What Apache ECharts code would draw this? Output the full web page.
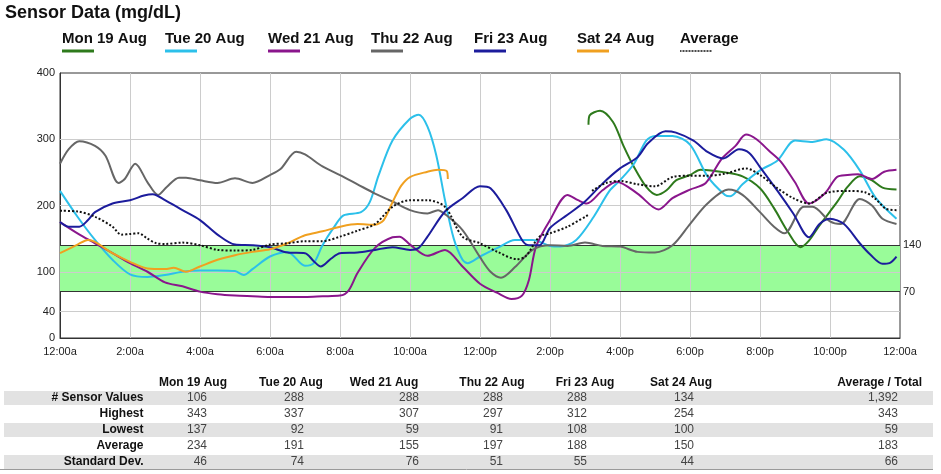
<!DOCTYPE html>
<html>
<head>
<meta charset="utf-8">
<script src="https://cdn.jsdelivr.net/npm/echarts@6/dist/echarts.min.js"></script>
<style>
html,body{margin:0;padding:0;background:#fff;}
#chart{width:941px;height:474px;}
</style>
</head>
<body>
<div id="chart"></div>
<script>
// ---------- data ----------
const dayNames = ['Mon 19 Aug', 'Tue 20 Aug', 'Wed 21 Aug', 'Thu 22 Aug', 'Fri 23 Aug', 'Sat 24 Aug', 'Average'];
const dayColors = ['#2e7a1c', '#2cc0ea', '#8a168c', '#666666', '#1c1c9c', '#f0a020', '#111111'];

// [hour of day, mg/dL]
const mon19 = [[15.1,322],[15.13,336],[15.43,343],[15.8,326],[16.1,290],[16.4,258],[16.75,228],[17.05,216],[17.33,223],[17.6,238],[18,246],[18.3,254],[18.6,253],[19,250],[19.5,244],[20,226],[20.4,196],[20.8,160],[21.15,137],[21.4,147],[21.7,170],[22.2,205],[22.5,228],[22.85,244],[23.2,238],[23.5,227],[23.9,224]];
const tue20 = [[0,222],[0.5,183],[1,148],[1.5,118],[2,96],[2.5,92],[3,95],[3.5,100],[4,102],[4.5,102],[5,101],[5.25,95],[5.5,104],[6,123],[6.5,130],[7,109],[7.25,113],[7.5,140],[7.8,165],[8.1,185],[8.6,190],[8.85,205],[9.1,245],[9.5,298],[10,331],[10.25,337],[10.5,319],[10.75,276],[11,208],[11.25,150],[11.5,118],[11.65,113],[12,123],[12.5,136],[13,148],[13.5,148],[14,139],[14.3,138],[14.75,148],[15.25,183],[15.7,222],[16,238],[16.4,263],[16.75,298],[17,305],[17.5,305],[18,292],[18.5,244],[19,216],[19.15,214],[19.5,232],[20,253],[20.5,268],[21,298],[21.5,296],[21.9,300],[22.4,284],[22.85,253],[23.3,212],[23.9,180]];
const wed21 = [[0,175],[0.5,158],[1,143],[1.5,128],[2,113],[2.5,100],[3,84],[3.5,78],[4,70],[4.5,66],[5,64],[5.5,63],[6,62],[6.5,62],[7,62],[7.5,63],[8,64],[8.25,72],[8.5,98],[9,136],[9.5,152],[9.7,153],[10,141],[10.5,124],[11,133],[11.5,108],[12,82],[12.5,68],[12.9,59],[13.2,64],[13.4,88],[13.6,138],[14,178],[14.5,216],[14.8,208],[15.05,203],[15.5,223],[15.9,236],[16.5,218],[17.1,194],[17.5,211],[18,224],[18.45,234],[18.9,270],[19.3,290],[19.6,307],[19.9,300],[20.25,283],[20.6,266],[21,235],[21.4,203],[21.85,218],[22.2,243],[22.5,246],[22.8,247],[23.2,240],[23.55,251],[23.9,254]];
const thu22 = [[0,263],[0.25,285],[0.55,297],[1,290],[1.3,275],[1.67,234],[1.85,240],[2.15,263],[2.5,235],[2.8,216],[3.05,228],[3.4,242],[3.6,242],[4,238],[4.5,234],[5,241],[5.5,234],[6,246],[6.3,255],[6.75,281],[7,277],[7.5,259],[8,246],[8.5,232],[9,218],[9.5,206],[10,193],[10.5,188],[10.8,193],[11,187],[11.5,163],[12,122],[12.3,100],[12.6,91],[13,107],[13.5,133],[14,140],[14.5,139],[15,144],[15.5,139],[16,138],[16.5,130],[17,129],[17.5,140],[18,172],[18.5,203],[19.1,224],[19.5,216],[20,190],[20.4,168],[20.7,158],[21.25,198],[21.5,198],[22,176],[22.3,172],[22.85,210],[23.2,200],[23.5,180],[23.9,172]];
const fri23 = [[0,175],[0.25,168],[0.55,168],[0.8,178],[1,190],[1.5,203],[2,208],[2.4,215],[2.65,217],[3,208],[3.5,193],[4,178],[4.5,156],[5,141],[5.5,140],[6,137],[6.5,129],[7,128],[7.25,116],[7.45,108],[7.75,120],[8,128],[8.5,129],[9,133],[9.5,137],[10,133],[10.25,136],[10.5,153],[11,191],[11.5,211],[12,229],[12.3,226],[12.75,193],[13.2,148],[13.4,140],[13.7,140],[14,166],[14.5,186],[15,206],[15.5,233],[16,256],[16.5,273],[16.8,294],[17.3,312],[17.6,310],[18.1,298],[18.5,281],[18.95,271],[19.4,285],[19.7,279],[20,258],[20.5,222],[20.95,188],[21.4,152],[21.7,172],[22,180],[22.4,172],[22.85,143],[23.15,126],[23.5,112],[23.7,113],[23.9,123]];
const sat24 = [[0,128],[0.5,141],[0.8,148],[1,145],[1.5,128],[2,115],[2.5,105],[3,104],[3.25,106],[3.6,100],[4,108],[4.5,118],[5,125],[5.5,130],[6,134],[6.5,143],[7,155],[7.5,161],[8,168],[8.5,172],[9,171],[9.25,178],[9.5,205],[9.75,230],[10,243],[10.5,251],[10.8,254],[11.05,252],[11.08,240]];
const average = [[0,192],[0.5,191],[1,183],[1.5,168],[1.75,156],[2,157],[2.25,158],[2.5,150],[2.75,143],[3,142],[3.5,144],[4,140],[4.5,133],[5,132],[5.5,133],[6,141],[6.5,143],[7,146],[7.5,146],[8,153],[8.5,162],[9,172],[9.5,198],[10,208],[10.5,208],[11,198],[11.5,153],[12,143],[12.5,130],[13.05,119],[13.3,123],[13.7,153],[14,158],[14.5,168],[15.1,186],[15.12,null],[15.2,222],[15.6,234],[16,237],[16.5,232],[17,229],[17.5,243],[18,245],[18.5,245],[19,248],[19.6,256],[20,246],[20.5,226],[20.95,211],[21.4,203],[21.9,219],[22.5,222],[23,220],[23.3,210],[23.6,195],[23.9,193]];
const seriesData = [mon19, tue20, wed21, thu22, fri23, sat24, average];

const yTickLabels = [0, 40, 100, 200, 300, 400];
const yGridValues = [40, 100, 200, 300];
const xGridValues = [2, 4, 6, 8, 10, 12, 14, 16, 18, 20, 22];
const targetLow = 70;
const targetHigh = 140;

// summary table
const statCols = ['Mon 19 Aug', 'Tue 20 Aug', 'Wed 21 Aug', 'Thu 22 Aug', 'Fri 23 Aug', 'Sat 24 Aug', 'Average / Total'];
const statRows = ['# Sensor Values', 'Highest', 'Lowest', 'Average', 'Standard Dev.'];
const sensorValues = [106, 288, 288, 288, 288, 134, 1392];
const highest = [343, 337, 307, 297, 312, 254, 343];
const lowest = [137, 92, 59, 91, 108, 100, 59];
const averages = [234, 191, 155, 197, 188, 150, 183];
const stdDevs = [46, 74, 76, 51, 55, 44, 66];
const statValues = [sensorValues, highest, lowest, averages, stdDevs];

// ---------- chart ----------
const FONT = '"Liberation Sans", Arial, sans-serif';
const chart = echarts.init(document.getElementById('chart'), null, {renderer: 'canvas'});

function fmtHour(v) {
  const h = v % 24;
  const suffix = (v < 12 || v >= 24) ? 'a' : 'p';
  const hr = h % 12 === 0 ? 12 : h % 12;
  return hr + ':00' + suffix;
}

const rich = {
  t: {fontSize: 15, fontWeight: 'bold', color: '#111', width: 90, lineHeight: 19, fontFamily: FONT}
};
dayColors.forEach(function (c, i) {
  if (i < 6) {
    rich['u' + i] = {width: 32, height: 3, lineHeight: 6, backgroundColor: c};
  } else {
    rich['u' + i] = {width: 32, height: 0, lineHeight: 6, borderColor: c, borderWidth: 1.5, borderType: 'dotted'};
  }
});

const lineSeries = dayNames.map(function (name, i) {
  return {
    name: name,
    type: 'line',
    data: seriesData[i],
    showSymbol: false,
    smooth: 0.3,
    connectNulls: false,
    z: 5 + i,
    silent: true,
    lineStyle: {color: dayColors[i], width: 2, type: i === 6 ? 'dotted' : 'solid'},
    itemStyle: {color: dayColors[i]},
    emphasis: {disabled: true}
  };
});

// table graphics
const colHeaderCenter = [193, 291, 384, 492, 585, 681];
const colValueRight = [207, 304, 419, 503, 587, 694, 898];
const headerY = 382.5;
const rowY0 = 398, rowStep = 16;
const graphics = [];
statRows.forEach(function (r, ri) {
  if (ri % 2 === 0) {
    graphics.push({type: 'rect', shape: {x: 4, y: rowY0 + ri * rowStep - 7, width: 929, height: 14}, style: {fill: '#e2e2e2'}, silent: true});
  }
});
graphics.push({type: 'line', shape: {x1: 0, y1: 469.5, x2: 933, y2: 469.5}, style: {stroke: '#9a9a9a', lineWidth: 1}, silent: true});
statCols.forEach(function (c, ci) {
  const isLast = ci === statCols.length - 1;
  graphics.push({type: 'text', silent: true, style: {
    text: c, x: isLast ? 922 : colHeaderCenter[ci], y: headerY,
    textAlign: isLast ? 'right' : 'center', align: isLast ? 'right' : 'center',
    textVerticalAlign: 'middle', verticalAlign: 'middle',
    font: 'bold 12px ' + FONT, fill: '#111'
  }});
});
statRows.forEach(function (r, ri) {
  graphics.push({type: 'text', silent: true, style: {
    text: r, x: 143.5, y: rowY0 + ri * rowStep,
    textAlign: 'right', align: 'right', textVerticalAlign: 'middle', verticalAlign: 'middle',
    font: 'bold 12px ' + FONT, fill: '#111'
  }});
  statValues[ri].forEach(function (v, ci) {
    graphics.push({type: 'text', silent: true, style: {
      text: v.toLocaleString('en-US'), x: colValueRight[ci], y: rowY0 + ri * rowStep,
      textAlign: 'right', align: 'right', textVerticalAlign: 'middle', verticalAlign: 'middle',
      font: '12px ' + FONT, fill: '#444'
    }});
  });
});

const option = {
  animation: false,
  backgroundColor: '#fff',
  textStyle: {fontFamily: FONT},
  title: {
    text: 'Sensor Data (mg/dL)', left: 5, top: 4, padding: 0,
    textStyle: {fontSize: 18, fontWeight: 'bold', color: '#111', fontFamily: FONT}
  },
  legend: {
    data: dayNames,
    left: 57, top: 31, padding: 0,
    icon: 'none', itemWidth: 0, itemHeight: 0, itemGap: 8,
    selectedMode: false,
    formatter: function (name) {
      const i = dayNames.indexOf(name);
      return '{t|' + name + '}\n{u' + i + '|}';
    },
    textStyle: {rich: rich}
  },
  grid: {
    left: 60, right: 41, top: 73, bottom: 136,
    show: true, borderColor: '#333', borderWidth: 1, backgroundColor: 'transparent'
  },
  xAxis: {
    type: 'value', min: 0, max: 24, interval: 2,
    axisLine: {show: true, lineStyle: {color: '#333'}},
    axisTick: {show: false},
    splitLine: {show: false},
    axisLabel: {formatter: fmtHour, fontSize: 11, color: '#222', margin: 8, fontFamily: FONT, showMaxLabel: true, showMinLabel: true}
  },
  yAxis: {
    type: 'value', min: 0, max: 400, interval: 20,
    axisLine: {show: true, lineStyle: {color: '#333'}},
    axisTick: {show: false},
    splitLine: {show: false},
    axisLabel: {
      fontSize: 11, color: '#222', margin: 5, fontFamily: FONT,
      formatter: function (v) { return yTickLabels.indexOf(v) >= 0 ? String(v) : ''; }
    }
  },
  graphic: graphics,
  series: [
    {
      name: 'target band', type: 'line', data: [], z: 1, silent: true,
      markArea: {silent: true, itemStyle: {color: '#99fc99', opacity: 1}, data: [[{yAxis: targetLow}, {yAxis: targetHigh}]]}
    },
    {
      name: 'grid lines', type: 'line', data: [], z: 2, silent: true,
      markLine: {
        silent: true, symbol: ['none', 'none'], animation: false,
        label: {show: false},
        lineStyle: {color: '#cccccc', width: 1, type: 'solid'},
        data: yGridValues.map(function (v) { return {yAxis: v}; })
          .concat(xGridValues.map(function (v) { return {xAxis: v}; }))
      }
    },
    {
      name: 'target lines', type: 'line', data: [], z: 3, silent: true,
      markLine: {
        silent: true, symbol: ['none', 'none'], animation: false,
        lineStyle: {color: '#333', width: 1, type: 'solid'},
        label: {show: true, position: 'end', distance: 3, color: '#222', fontSize: 11, fontFamily: FONT,
          formatter: function (p) { return String(p.value); }},
        data: [{yAxis: targetHigh}, {yAxis: targetLow}]
      }
    }
  ].concat(lineSeries)
};
chart.setOption(option);
</script>
</body>
</html>
